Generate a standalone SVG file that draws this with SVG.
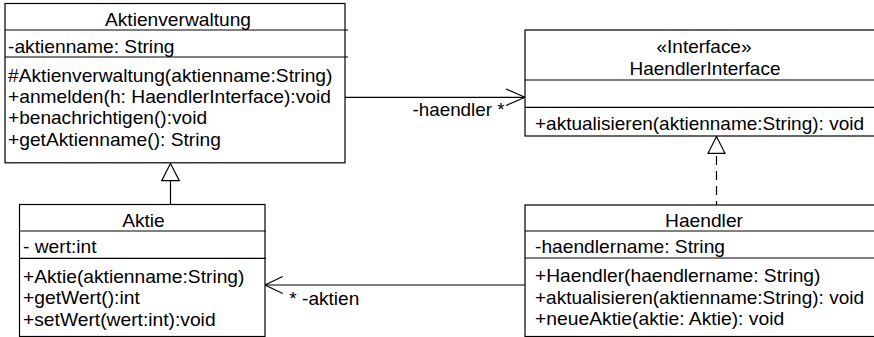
<svg xmlns="http://www.w3.org/2000/svg" width="874" height="337" viewBox="0 0 874 337">
<style>
text { font-family: "Liberation Sans", Arial, sans-serif; font-size: 18.5px; fill: #000; }
.c { text-anchor: middle; }
.box { fill: #fff; stroke: #000; stroke-width: 1.2; }
.sep { stroke: #000; stroke-width: 1.2; fill: none; }
.edge { stroke: #000; stroke-width: 1.2; fill: none; }
.head { stroke: #000; stroke-width: 1.2; fill: #fff; }
.dash { stroke-dasharray: 9 6; }
</style>
<rect width="874" height="337" fill="#fff"/>
<g id="connectors">
  <line class="edge" x1="345" y1="97.3" x2="525" y2="97.3"/>
  <polyline class="edge" points="506,89 525,97.3 506,105.5"/>
  <text x="412.5" y="116" textLength="92" lengthAdjust="spacingAndGlyphs">-haendler *</text>
  <line class="edge" x1="525" y1="285" x2="265" y2="285"/>
  <polyline class="edge" points="282.7,276.5 265,285 282.7,293.5"/>
  <text x="289.3" y="305" textLength="70" lengthAdjust="spacingAndGlyphs">* -aktien</text>
  <line class="edge" x1="170.5" y1="180.7" x2="170.5" y2="204.5"/>
  <polygon class="head" points="170.5,163.5 161.7,180.7 179.3,180.7"/>
  <line class="edge dash" x1="716.5" y1="156" x2="716.5" y2="205"/>
  <polygon class="head" points="716.5,136.5 708,153.3 725,153.3"/>
</g>
<g id="Aktienverwaltung">
  <rect class="box" x="5" y="3.5" width="340" height="159.3"/>
  <line class="sep" x1="5" y1="30" x2="348" y2="30"/>
  <line class="sep" x1="5" y1="57" x2="348" y2="57"/>
  <text class="c" x="178" y="26" textLength="146" lengthAdjust="spacingAndGlyphs">Aktienverwaltung</text>
  <text x="8" y="52.5" textLength="166.5" lengthAdjust="spacingAndGlyphs">-aktienname: String</text>
  <text x="8" y="81.7" textLength="324.4" lengthAdjust="spacingAndGlyphs">#Aktienverwaltung(aktienname:String)</text>
  <text x="8" y="103" textLength="322.9" lengthAdjust="spacingAndGlyphs">+anmelden(h: HaendlerInterface):void</text>
  <text x="8" y="124.3" textLength="199" lengthAdjust="spacingAndGlyphs">+benachrichtigen():void</text>
  <text x="8" y="145.7" textLength="212.9" lengthAdjust="spacingAndGlyphs">+getAktienname(): String</text>
</g>
<g id="HaendlerInterface">
  <rect class="box" x="525" y="30" width="360" height="106"/>
  <line class="sep" x1="525" y1="80" x2="885" y2="80"/>
  <line class="sep" x1="525" y1="107.3" x2="885" y2="107.3"/>
  <text class="c" x="704" y="53" textLength="95" lengthAdjust="spacingAndGlyphs">«Interface»</text>
  <text class="c" x="705" y="75" textLength="151" lengthAdjust="spacingAndGlyphs">HaendlerInterface</text>
  <text x="535" y="129.5" textLength="329" lengthAdjust="spacingAndGlyphs">+aktualisieren(aktienname:String): void</text>
</g>
<g id="Aktie">
  <rect class="box" x="19.5" y="204.5" width="245.5" height="132"/>
  <line class="sep" x1="19.5" y1="231" x2="266" y2="231"/>
  <line class="sep" x1="19.5" y1="258.3" x2="266" y2="258.3"/>
  <text class="c" x="143.5" y="226.7" textLength="42.5" lengthAdjust="spacingAndGlyphs">Aktie</text>
  <text x="23" y="253.3" textLength="73.6" lengthAdjust="spacingAndGlyphs">- wert:int</text>
  <text x="23" y="283" textLength="221.4" lengthAdjust="spacingAndGlyphs">+Aktie(aktienname:String)</text>
  <text x="23" y="304.3" textLength="116.8" lengthAdjust="spacingAndGlyphs">+getWert():int</text>
  <text x="23" y="325.6" textLength="192.6" lengthAdjust="spacingAndGlyphs">+setWert(wert:int):void</text>
</g>
<g id="Haendler">
  <rect class="box" x="525" y="205" width="360" height="131.5"/>
  <line class="sep" x1="525" y1="231" x2="885" y2="231"/>
  <line class="sep" x1="525" y1="258" x2="885" y2="258"/>
  <text class="c" x="704" y="226.5" textLength="77.9" lengthAdjust="spacingAndGlyphs">Haendler</text>
  <text x="535" y="252.5" textLength="190" lengthAdjust="spacingAndGlyphs">-haendlername: String</text>
  <text x="535" y="282" textLength="285.4" lengthAdjust="spacingAndGlyphs">+Haendler(haendlername: String)</text>
  <text x="535" y="303.5" textLength="329" lengthAdjust="spacingAndGlyphs">+aktualisieren(aktienname:String): void</text>
  <text x="535" y="325" textLength="249.2" lengthAdjust="spacingAndGlyphs">+neueAktie(aktie: Aktie): void</text>
</g>
</svg>
